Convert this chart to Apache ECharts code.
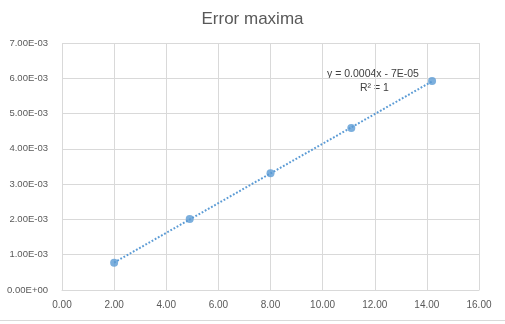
<!DOCTYPE html>
<html><head><meta charset="utf-8">
<script src="https://cdn.jsdelivr.net/npm/echarts@6/dist/echarts.min.js"></script>
<style>html,body{margin:0;padding:0;background:#fff}#c{width:505px;height:324px}</style>
</head><body><div id="c"></div>
<script>
const xValues = [2.0, 4.9, 8.0, 11.1, 14.2];
const yValues = [0.00077, 0.00201, 0.00331, 0.00459, 0.00592];
const titleText = 'Error maxima';
const equationText = 'y = 0.0004x - 7E-05';
const r2Text = 'R² = 1';

// least squares fit for trendline
const n = xValues.length;
const mx = xValues.reduce((a,b)=>a+b,0)/n, my = yValues.reduce((a,b)=>a+b,0)/n;
let sxy=0, sxx=0;
for (let i=0;i<n;i++){ sxy+=(xValues[i]-mx)*(yValues[i]-my); sxx+=(xValues[i]-mx)**2; }
const slope = sxy/sxx, icpt = my - slope*mx;
const xMin = Math.min(...xValues), xMax = Math.max(...xValues);
const trend = [[xMin, slope*xMin+icpt],[xMax, slope*xMax+icpt]];

function sci(v){
  if (v === 0) return '0.00E+00';
  const e = Math.floor(Math.log10(Math.abs(v)) + 1e-9);
  const m = v / Math.pow(10, e);
  const es = (e<0?'-':'+') + String(Math.abs(e)).padStart(2,'0');
  return m.toFixed(2) + 'E' + es;
}
const font = 'Liberation Sans';
const chart = echarts.init(document.getElementById('c'));
chart.setOption({
  animation:false,
  title:{text:titleText,left:'center',top:6,textStyle:{fontFamily:font,fontSize:17,fontWeight:'normal',color:'#595959'}},
  grid:{left:62,right:26,top:43,bottom:34,containLabel:false,outerBoundsMode:'none'},
  xAxis:{type:'value',min:0,max:16,interval:2,
    axisLine:{show:true,lineStyle:{color:'#d9d9d9'}},axisTick:{show:false},
    splitLine:{show:true,lineStyle:{color:'#d9d9d9'}},
    axisLabel:{fontFamily:font,fontSize:10,color:'#595959',margin:10,formatter:v=>v.toFixed(2)}},
  yAxis:{type:'value',min:0,max:0.007,interval:0.001,
    axisLine:{show:false},axisTick:{show:false},
    splitLine:{show:true,lineStyle:{color:'#d9d9d9'}},
    axisLabel:{fontFamily:font,fontSize:9.5,color:'#595959',margin:14,formatter:sci}},
  series:[
    {type:'line',data:trend,symbol:'none',silent:true,
      lineStyle:{color:'#5b9bd5',width:2,type:[1.8,1.8]}},
    {type:'scatter',data:xValues.map((x,i)=>[x,yValues[i]]),symbolSize:8,
      itemStyle:{color:'#5b9bd5'}}
  ],
  graphic:[
    {type:'text',left:327,top:69,style:{text:equationText,fontFamily:font,fontSize:10.5,fill:'#404040'}},
    {type:'text',left:360,top:83,style:{text:r2Text,fontFamily:font,fontSize:10.5,fill:'#404040'}},
    {type:'line',shape:{x1:0,y1:320.5,x2:505,y2:320.5},style:{stroke:'#d9d9d9',lineWidth:1}}
  ]
});
</script></body></html>
